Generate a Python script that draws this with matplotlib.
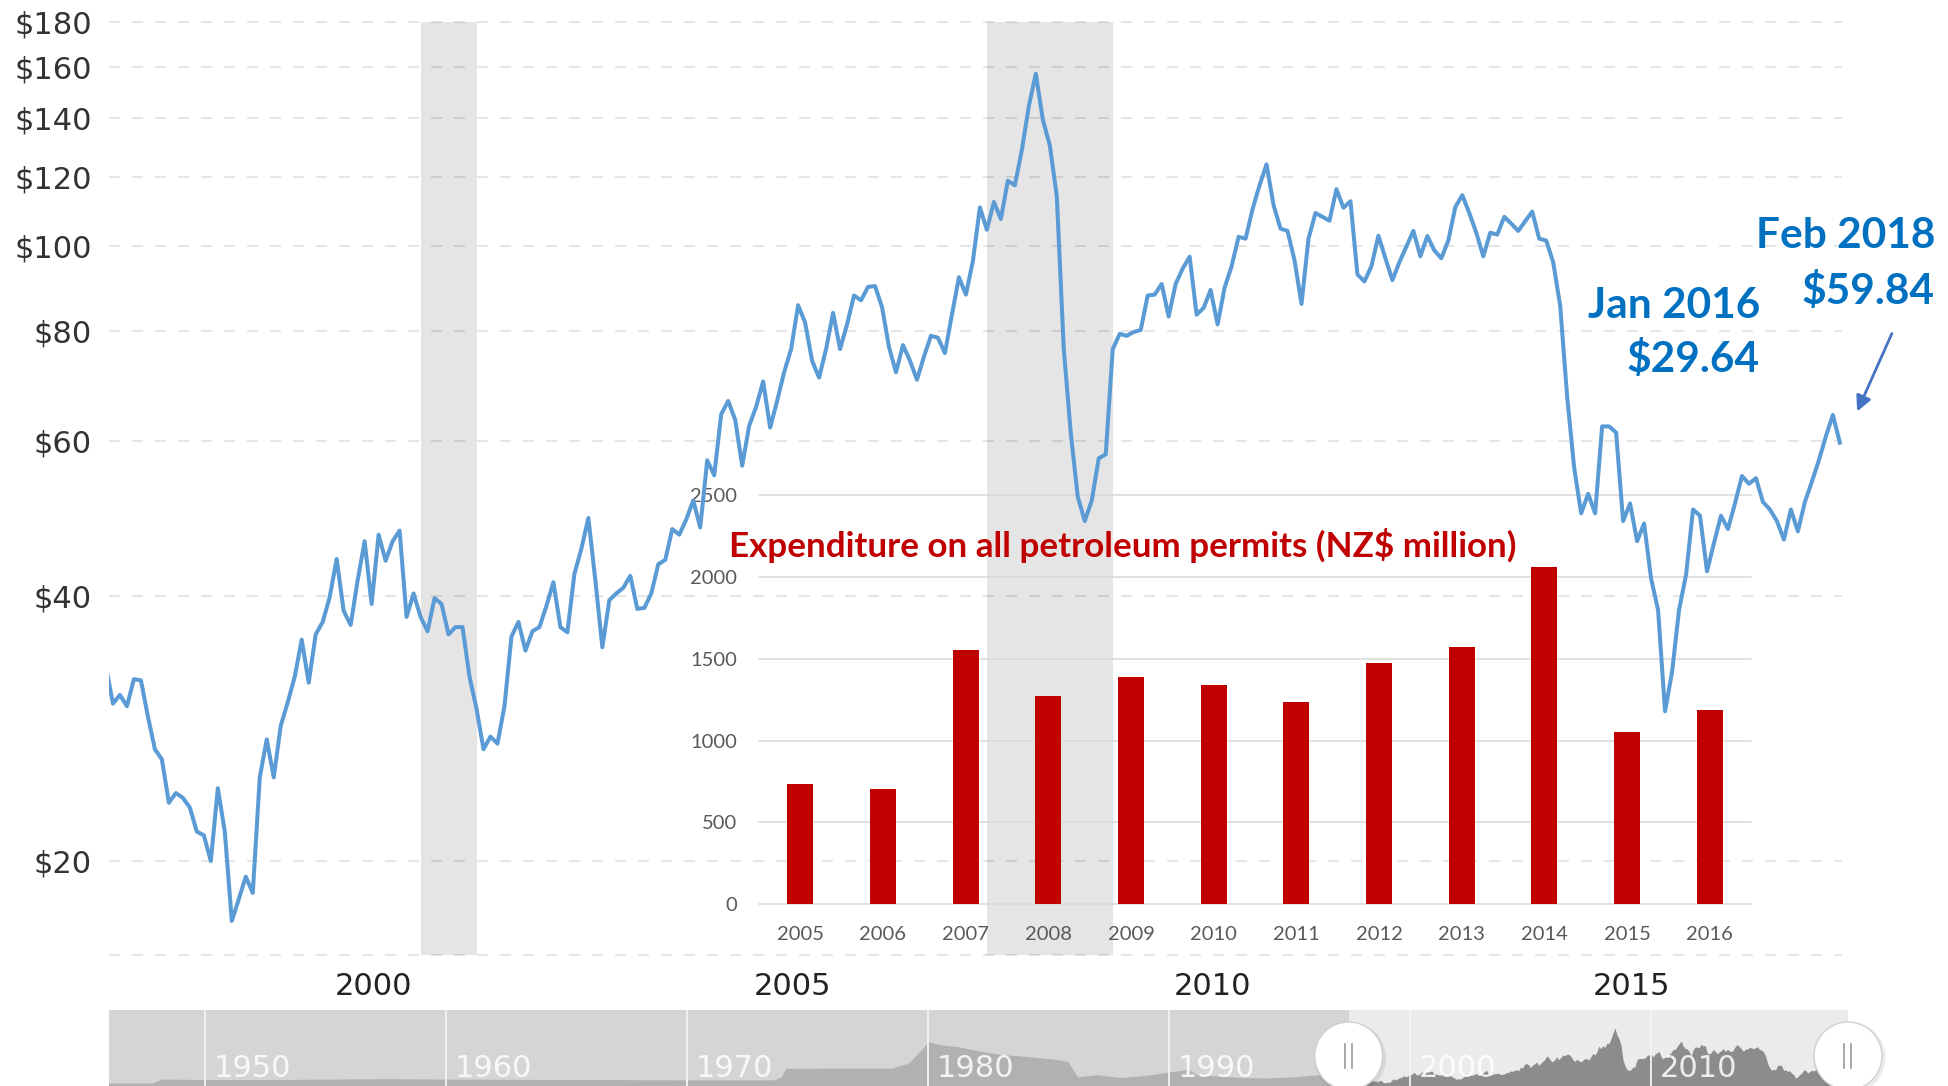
import numpy as np
import matplotlib
matplotlib.use('Agg')
import matplotlib.pyplot as plt
from matplotlib.patches import Ellipse, FancyArrowPatch
from matplotlib.lines import Line2D
from matplotlib.ticker import NullLocator

# ── data ────────────────────────────────────────────────────────
# monthly crude oil price, inflation adjusted (US$/bbl), Jun 1997 .. Feb 2018
price_start = 1997 + 5 / 12
prices = [
    33.3, 30.2, 30.9, 30.0, 32.2, 32.1, 29.2,                                   # 1997 Jun-Dec
    26.8, 26.1, 23.3, 23.9, 23.6, 23.0, 21.6, 21.4, 20.0, 24.2, 21.6, 17.1,     # 1998
    18.1, 19.2, 18.4, 24.9, 27.5, 24.9, 28.5, 30.3, 32.4, 35.7, 31.9, 36.2,     # 1999
    37.4, 39.9, 44.1, 38.5, 37.1, 41.7, 46.2, 39.2, 47.0, 43.9, 46.2, 47.5,     # 2000
    37.9, 40.3, 37.9, 36.5, 39.8, 39.2, 36.2, 36.9, 36.9, 32.4, 29.8, 26.8,     # 2001
    27.7, 27.2, 30.0, 36.0, 37.4, 34.7, 36.5, 36.9, 39.0, 41.5, 36.9, 36.4,     # 2002
    42.4, 45.3, 49.1, 41.7, 35.0, 39.6, 40.3, 40.9, 42.2, 38.7, 38.8, 40.3,     # 2003
    43.5, 44.0, 47.7, 47.0, 48.9, 51.4, 47.9, 57.1, 54.9, 64.4, 66.7, 63.5,     # 2004
    56.3, 62.5, 65.7, 70.2, 62.2, 66.7, 71.9, 76.4, 85.7, 81.9, 74.1, 70.9,     # 2005
    76.4, 84.0, 76.4, 81.5, 87.9, 86.8, 89.9, 90.1, 85.3, 76.8, 71.9, 77.2,     # 2006
    74.1, 70.5, 74.9, 79.1, 78.7, 75.6, 83.6, 92.2, 88.1, 96.2, 110.7, 104.4,   # 2007
    112.3, 107.4, 118.7, 117.3, 128.6, 144.3, 157.1, 139.3, 130.2, 114.0, 76.4, 61.3,  # 2008
    51.9, 48.7, 51.4, 57.4, 58.0, 76.4, 79.5, 79.1, 79.9, 80.3, 87.9, 88.1,     # 2009
    90.6, 83.2, 90.6, 94.3, 97.3, 83.6, 85.1, 89.2, 81.5, 89.7, 94.9, 102.5,    # 2010
    102.0, 110.2, 117.3, 123.9, 111.4, 104.7, 104.1, 96.4, 86.0, 102.0, 109.1, 108.0,  # 2011
    106.9, 116.1, 110.6, 112.5, 92.9, 91.2, 94.9, 102.8, 96.9, 91.5, 95.9, 99.9,  # 2012
    104.1, 97.4, 102.7, 98.9, 96.9, 101.5, 110.8, 114.3, 109.1, 103.6, 97.4, 103.6,  # 2013
    103.1, 108.0, 106.1, 104.1, 106.8, 109.5, 102.0, 101.5, 95.9, 85.6, 67.4, 56.0,  # 2014
    49.7, 52.3, 49.7, 62.4, 62.4, 61.4, 48.7, 51.0, 46.2, 48.4, 41.9, 38.6,     # 2015
    29.6, 32.8, 38.6, 42.3, 50.2, 49.4, 42.7, 46.0, 49.4, 47.7, 51.0, 54.8,     # 2016
    53.7, 54.5, 51.2, 50.2, 48.7, 46.4, 50.2, 47.4, 51.2, 54.0, 57.1, 60.8,     # 2017
    64.3, 59.8,                                                                 # 2018 Jan-Feb
]
price_ticks = [20, 40, 60, 80, 100, 120, 140, 160, 180]
axis_years = [2000, 2005, 2010, 2015]
recessions = [(2001 + 2 / 12, 2001 + 10 / 12), (2007 + 11 / 12, 2009 + 5 / 12)]

# inset: expenditure on all petroleum permits (NZ$ million)
permit_years = ['2005', '2006', '2007', '2008', '2009', '2010',
                '2011', '2012', '2013', '2014', '2015', '2016']
permit_spend = [736, 702, 1554, 1272, 1391, 1339, 1239, 1473, 1575, 2062, 1052, 1185]
permit_ticks = [0, 500, 1000, 1500, 2000, 2500]

# navigator strip: long-run history ahead of the monthly series
nav_early_years = [1946.0, 1947.8, 1948.2, 1950, 1953, 1957.5, 1960, 1965, 1970,
                   1973.6, 1973.9, 1974.1, 1976, 1978.5, 1979.2, 1979.7, 1980.0,
                   1980.6, 1981.2, 1982, 1983, 1984, 1985.2, 1985.8, 1986.2,
                   1987, 1988, 1989, 1990.8, 1991.2, 1992, 1993, 1994, 1995,
                   1996, 1996.9]
nav_early_prices = [17, 17, 27, 26, 26, 28, 27, 26, 25,
                    25, 32, 54, 55, 55, 68, 100, 122,
                    113, 110, 100, 90, 85, 78, 72, 33,
                    38, 31, 36, 52, 37, 35, 31, 30, 32,
                    37, 40]
nav_decades = [1950, 1960, 1970, 1980, 1990, 2000, 2010]

# ── layout (pixel geometry of the source screenshot) ────────────
W, H = 1949, 1086
X_LIM = (1997.453, 2018.109)
Y_LIM = (15.64, 180)
NAV_LIM = (1946.02, 2018.17)
LABEL_SHIFT = 0.6        # year labels sit ~7 months into each year in the source


def rect(left, top, right, bottom):
    return [left / W, 1 - bottom / H, (right - left) / W, (bottom - top) / H]


months = price_start + np.arange(len(prices)) / 12

fig = plt.figure(figsize=(W / 100, H / 100), dpi=100, facecolor='white')
renderer = fig.canvas.get_renderer()


def fit_width(txt, target_px):
    w = txt.get_window_extent(renderer).width
    txt.set_fontsize(txt.get_fontsize() * target_px / w)


main_rect = rect(109, 21.7, 1842, 955)

# ── main axes: recession bands, dashed grid, tick labels ────────
ax = fig.add_axes(main_rect, zorder=1)
ax.set_yscale('log')
ax.set_xlim(X_LIM)
ax.set_ylim(Y_LIM)
for spine in ax.spines.values():
    spine.set_visible(False)
for a, b in recessions:
    ax.axvspan(a, b, color='#e5e5e5', lw=0, zorder=0)
for v in price_ticks + [Y_LIM[0]]:
    ax.axhline(v, color='black', alpha=0.13, lw=1.15, dashes=(6.9, 7.5),
               clip_on=False, zorder=1)
ax.set_yticks(price_ticks)
ax.set_yticklabels([rf'\${v}' for v in price_ticks])
ax.yaxis.set_minor_locator(NullLocator())
ax.tick_params(axis='y', length=0, pad=12.5, labelsize=22, labelcolor='#333333')
ax.set_xticks([y + LABEL_SHIFT for y in axis_years])
ax.set_xticklabels([str(y) for y in axis_years])
ax.tick_params(axis='x', length=0, pad=12.5, labelsize=22, labelcolor='#222222')

# ── inset bar chart ──────────────────────────────────────────────
probe = fig.text(0, 0, '2005', fontfamily='Lato', fontsize=14)
fit_width(probe, 47)
inset_size = probe.get_fontsize()
probe.remove()

axb = fig.add_axes(rect(759, 495.5, 1751, 904), zorder=2)
axb.patch.set_visible(False)
for spine in axb.spines.values():
    spine.set_visible(False)
for v in permit_ticks:
    axb.axhline(v, color='#d9d9d9', lw=1.1, clip_on=False, zorder=0)
xb = np.arange(len(permit_years))
axb.bar(xb, permit_spend, width=0.315, color='#C00000', zorder=2)
axb.set_xlim(-0.5, len(permit_years) - 0.5)
axb.set_ylim(0, 2500)
axb.set_yticks(permit_ticks)
axb.set_xticks(xb)
axb.set_xticklabels(permit_years)
axb.tick_params(axis='y', length=0, pad=15.5, labelsize=inset_size, labelcolor='#595959')
axb.tick_params(axis='x', length=0, pad=16, labelsize=inset_size, labelcolor='#595959')
for lab in axb.get_xticklabels() + axb.get_yticklabels():
    lab.set_fontfamily('Lato')

# ── price line on top of everything ─────────────────────────────
axl = fig.add_axes(main_rect, zorder=3)
axl.set_yscale('log')
axl.set_xlim(X_LIM)
axl.set_ylim(Y_LIM)
axl.axis('off')
axl.plot(months, prices, color='#5B9BD5', lw=2.9, solid_joinstyle='round')

# ── navigator strip ──────────────────────────────────────────────
axn = fig.add_axes(rect(109, 1010, 1848, 1089.7), zorder=1)
axn.set_facecolor('#ebebeb')
for spine in axn.spines.values():
    spine.set_visible(False)
axn.set_xticks([])
axn.set_yticks([])
axn.set_xlim(NAV_LIM)
axn.set_ylim(0, 202.8)
nav_x = np.concatenate([nav_early_years, months])
nav_v = np.concatenate([nav_early_prices, prices])
axn.fill_between(nav_x, nav_v, color='#8c8c8c', lw=0, zorder=1)
axn.axvspan(NAV_LIM[0], X_LIM[0], color='#c8c8c8', alpha=0.62, lw=0, zorder=2)
for d in nav_decades:
    axn.axvline(d, color='#f4f4f4', lw=1.3, zorder=3)
    axn.text(d + 0.37, 55, str(d), color='white', alpha=0.85, fontsize=22,
             ha='left', va='center', zorder=4)

for hx in (X_LIM[0], NAV_LIM[1]):
    px = axn.transData.transform((hx, 0))[0]
    cy = 1 - 1056 / H
    fig.add_artist(Ellipse((px / W + 1.5 / W, cy - 2 / H), 72 / W, 72 / H,
                           transform=fig.transFigure, facecolor='black',
                           alpha=0.08, lw=0, zorder=9))
    fig.add_artist(Ellipse((px / W, cy), 68 / W, 68 / H, transform=fig.transFigure,
                           facecolor='white', edgecolor='#d0d0d0', lw=1, zorder=10))
    for dx in (-3.5, 3.5):
        fig.add_artist(Line2D([(px + dx) / W] * 2, [cy - 12 / H, cy + 12 / H],
                              transform=fig.transFigure, color='#9a9a9a',
                              lw=1.2, zorder=11))

# ── texts ────────────────────────────────────────────────────────
title = fig.text(729.5 / W, 1 - 557 / H,
                 r'Expenditure on all petroleum permits (NZ\$ million)',
                 color='#C00000', fontfamily='Lato', fontweight='bold',
                 fontsize=24, ha='left', va='baseline', zorder=20)
fit_width(title, 787)

note_style = dict(color='#0070C0', fontfamily='Lato', fontweight='bold',
                  fontsize=30, ha='right', va='baseline', zorder=20)
jan = fig.text(1760 / W, 1 - 318 / H, 'Jan 2016', **note_style)
fit_width(jan, 172)
note_style['fontsize'] = jan.get_fontsize()
fig.text(1760 / W, 1 - 372 / H, r'\$29.64', **note_style)
fig.text(1935 / W, 1 - 248 / H, 'Feb 2018', **note_style)
fig.text(1935 / W, 1 - 304 / H, r'\$59.84', **note_style)

arrow = FancyArrowPatch((1893 / W, 1 - 331 / H), (1856 / W, 1 - 414 / H),
                        transform=fig.transFigure, arrowstyle='-|>',
                        mutation_scale=23, color='#4472C4', lw=2, zorder=20)
fig.add_artist(arrow)

fig.savefig('out.png', dpi=100, facecolor='white')
plt.close(fig)
